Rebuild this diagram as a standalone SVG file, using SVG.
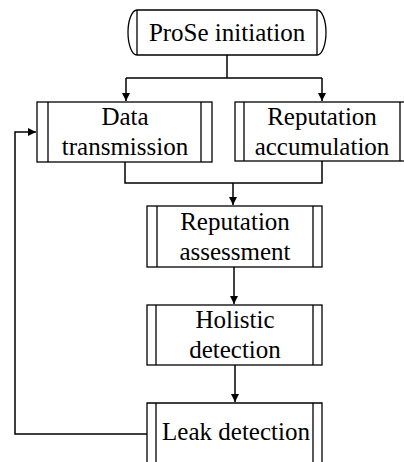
<svg xmlns="http://www.w3.org/2000/svg" width="404" height="462" viewBox="0 0 404 462">
<style>
.b{fill:#fff;stroke:#000;stroke-width:1.3}
.l{fill:none;stroke:#000;stroke-width:1.3}
.c{fill:none;stroke:#000;stroke-width:1.5}
.t{font-family:'Liberation Serif','DejaVu Serif',serif;font-size:25px;fill:#000;text-anchor:middle}
</style>
<defs>
<marker id="a" markerWidth="8" markerHeight="10" refX="8" refY="4" orient="auto" markerUnits="userSpaceOnUse" viewBox="0 0 8 8">
<path d="M0,0 L8,4 L0,8 Z" fill="#000"/>
</marker>
</defs>
<rect width="404" height="462" fill="#fff"/>
<g id="connectors">
<path class="c" d="M227,55 V78"/>
<path class="c" d="M126,78 H322"/>
<path class="c" d="M126,78 V101" marker-end="url(#a)"/>
<path class="c" d="M322,78 V101" marker-end="url(#a)"/>
<path class="c" d="M125,162 V183 H322 V161"/>
<path class="c" d="M233,183 V205" marker-end="url(#a)"/>
<path class="c" d="M234,267 V304" marker-end="url(#a)"/>
<path class="c" d="M235,365 V402" marker-end="url(#a)"/>
<path class="c" d="M147,434 H15 V132 H36" marker-end="url(#a)"/>
</g>
<g id="prose">
<path class="b" d="M137,10 H317 A9,22.5 0 0 1 317,55 H137 A9,22.5 0 0 1 137,10 Z"/>
<path class="l" d="M137,10 V55 M317,10 V55"/>
<text class="t" x="227" y="41" font-family="Liberation Serif, serif">ProSe initiation</text>
</g>
<g id="data">
<rect class="b" x="37" y="102" width="175" height="60"/>
<path class="l" d="M48,102 V162 M201,102 V162"/>
<text class="t" x="125" y="125" font-family="Liberation Serif, serif">Data</text>
<text class="t" x="125" y="155" font-family="Liberation Serif, serif">transmission</text>
</g>
<g id="accum">
<rect class="b" x="235" y="102" width="175" height="59"/>
<path class="l" d="M244,102 V161 M400,102 V161"/>
<text class="t" x="322" y="125" font-family="Liberation Serif, serif">Reputation</text>
<text class="t" x="322" y="155" font-family="Liberation Serif, serif">accumulation</text>
</g>
<g id="assess">
<rect class="b" x="147" y="206" width="175" height="61"/>
<path class="l" d="M157,206 V267 M313,206 V267"/>
<text class="t" x="235" y="230" font-family="Liberation Serif, serif">Reputation</text>
<text class="t" x="235" y="260" font-family="Liberation Serif, serif">assessment</text>
</g>
<g id="holistic">
<rect class="b" x="147" y="305" width="175" height="60"/>
<path class="l" d="M156,305 V365 M313,305 V365"/>
<text class="t" x="235" y="328" font-family="Liberation Serif, serif">Holistic</text>
<text class="t" x="235" y="358" font-family="Liberation Serif, serif">detection</text>
</g>
<g id="leak">
<path class="b" d="M147,470 V403 H322 V470"/>
<path class="l" d="M156,403 V470 M313,403 V470"/>
<text class="t" x="236" y="440" font-family="Liberation Serif, serif">Leak detection</text>
</g>
</svg>
